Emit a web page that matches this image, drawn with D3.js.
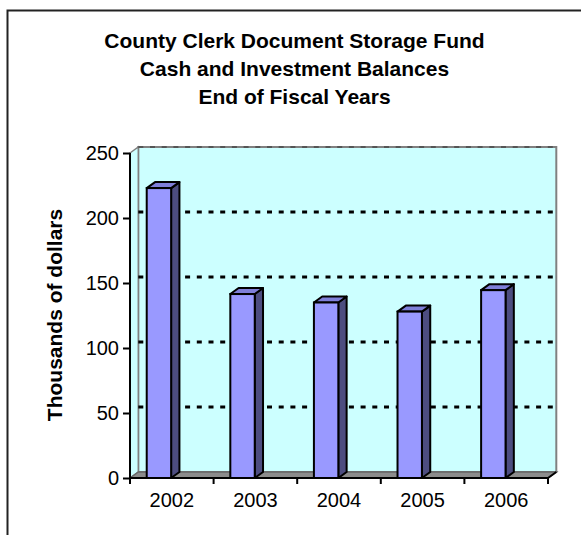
<!DOCTYPE html>
<html>
<head>
<meta charset="utf-8">
<script src="https://cdn.jsdelivr.net/npm/d3@7"></script>
<style>
  html, body { margin: 0; padding: 0; background: #fff; }
  svg { display: block; font-family: "Liberation Sans", Arial, sans-serif; }
</style>
</head>
<body>
<svg id="chart" width="581" height="535"></svg>
<script>
// Fiscal year-end balances, thousands of dollars
const years = ["2002", "2003", "2004", "2005", "2006"];
const balances = [223, 141.5, 135, 128, 144.5];
const yTicks = [0, 50, 100, 150, 200, 250];
const titleLines = [
  "County Clerk Document Storage Fund",
  "Cash and Investment Balances",
  "End of Fiscal Years"
];
const yAxisTitle = "Thousands of dollars";

const svg = d3.select("#chart");

// Plot frame (front plane) and the 3-D depth offset of the back wall
const plotLeft = 130, plotRight = 548, plotTop = 153, plotBottom = 478;
const dx = 8.3, dy = -6;

const x = d3.scaleBand().domain(years).range([plotLeft, plotRight]).padding(0);
const y = d3.scaleLinear().domain([0, 250]).range([plotBottom, plotTop]);

// Outer chart border (top and left edges)
svg.append("path")
  .attr("d", `M7.5,${535}V10.5H581`)
  .attr("fill", "none").attr("stroke", "#222").attr("stroke-width", 2);

// Title
svg.append("text")
  .attr("text-anchor", "middle")
  .attr("font-weight", "bold").attr("font-size", 21)
  .selectAll("tspan").data(titleLines).join("tspan")
  .attr("x", 294.5).attr("y", (d, i) => 47.5 + i * 28)
  .text(d => d);

// Back wall
const wall = svg.append("g");
wall.append("rect")
  .attr("x", plotLeft + dx).attr("y", plotTop + dy)
  .attr("width", plotRight - plotLeft).attr("height", plotBottom - plotTop)
  .attr("fill", "#CCFFFF").attr("stroke", "#808080").attr("stroke-width", 2);
// Side wall
wall.append("polygon")
  .attr("points", [[plotLeft, plotTop], [plotLeft + dx, plotTop + dy], [plotLeft + dx, plotBottom + dy], [plotLeft, plotBottom]].join(" "))
  .attr("fill", "#CCFFFF").attr("stroke", "#808080").attr("stroke-width", 1.5);
// Floor
wall.append("polygon")
  .attr("points", [[plotLeft, plotBottom], [plotLeft + dx, plotBottom + dy], [plotRight + dx, plotBottom + dy], [plotRight, plotBottom]].join(" "))
  .attr("fill", "#8C8C8C").attr("stroke", "#666").attr("stroke-width", 1.5);

// Gridlines on the back wall
svg.append("g").selectAll("line").data(yTicks.filter(v => v > 0)).join("line")
  .attr("x1", plotLeft + dx).attr("x2", plotRight + dx)
  .attr("y1", d => y(d) + dy).attr("y2", d => y(d) + dy)
  .attr("stroke", d => d === 250 ? "#555" : "#000")
  .attr("stroke-width", d => d === 250 ? 2 : 2.8)
  .attr("stroke-dasharray", "5,6.7");

// 3-D columns
const bw = x.bandwidth() * 0.292, boff = x.bandwidth() * 0.2;
const bars = svg.append("g").selectAll("g").data(years.map((yr, i) => ({ yr, v: balances[i] }))).join("g");
const xl = d => x(d.yr) + boff, xr = d => x(d.yr) + boff + bw;
bars.append("polygon") // side
  .attr("points", d => [[xr(d), y(d.v)], [xr(d) + dx, y(d.v) + dy], [xr(d) + dx, y(0) + dy], [xr(d), y(0)]].join(" "))
  .attr("fill", "#4D4D80").attr("stroke", "#000").attr("stroke-width", 2).attr("stroke-linejoin", "round");
bars.append("polygon") // top
  .attr("points", d => [[xl(d), y(d.v)], [xl(d) + dx, y(d.v) + dy], [xr(d) + dx, y(d.v) + dy], [xr(d), y(d.v)]].join(" "))
  .attr("fill", "#7F7FD9").attr("stroke", "#000").attr("stroke-width", 2).attr("stroke-linejoin", "round");
bars.append("rect") // front
  .attr("x", xl).attr("y", d => y(d.v)).attr("width", bw).attr("height", d => y(0) - y(d.v))
  .attr("fill", "#9999FF").attr("stroke", "#000").attr("stroke-width", 2);

// Y axis
const yAxis = svg.append("g").attr("transform", `translate(${plotLeft},0)`)
  .call(d3.axisLeft(y).tickValues(yTicks).tickSize(7).tickPadding(4).tickSizeOuter(0));
yAxis.select(".domain").remove();
yAxis.append("line").attr("x1", 0).attr("x2", 0).attr("y1", plotTop).attr("y2", plotBottom + 6)
  .attr("stroke", "#000").attr("stroke-width", 2);
yAxis.selectAll(".tick line").attr("stroke", "#000").attr("stroke-width", 2);
yAxis.selectAll("text").attr("font-size", 20).attr("fill", "#000")
  .attr("font-family", "'Liberation Sans', Arial, sans-serif");

// X axis
const xAxis = svg.append("g").attr("transform", `translate(0,${plotBottom})`)
  .call(d3.axisBottom(x).tickSize(0).tickPadding(15));
xAxis.select(".domain").remove();
xAxis.append("line").attr("x1", plotLeft).attr("x2", plotRight).attr("y1", 0).attr("y2", 0)
  .attr("stroke", "#000").attr("stroke-width", 2);
xAxis.append("g").selectAll("line").data(years.map(yr => x(yr)).concat([plotRight]).slice(1)).join("line")
  .attr("x1", d => d).attr("x2", d => d).attr("y1", 0).attr("y2", 6)
  .attr("stroke", "#000").attr("stroke-width", 2);
// floor edge returning to the back wall at the right end
xAxis.append("line").attr("x1", plotRight).attr("y1", 0).attr("x2", plotRight + dx).attr("y2", dy)
  .attr("stroke", "#000").attr("stroke-width", 2);
xAxis.selectAll("text").attr("font-size", 20).attr("fill", "#000")
  .attr("font-family", "'Liberation Sans', Arial, sans-serif");

// Y axis title
svg.append("text")
  .attr("transform", "translate(61.5,315) rotate(-90)")
  .attr("text-anchor", "middle")
  .attr("font-weight", "bold").attr("font-size", 21)
  .text(yAxisTitle);
</script>
</body>
</html>
